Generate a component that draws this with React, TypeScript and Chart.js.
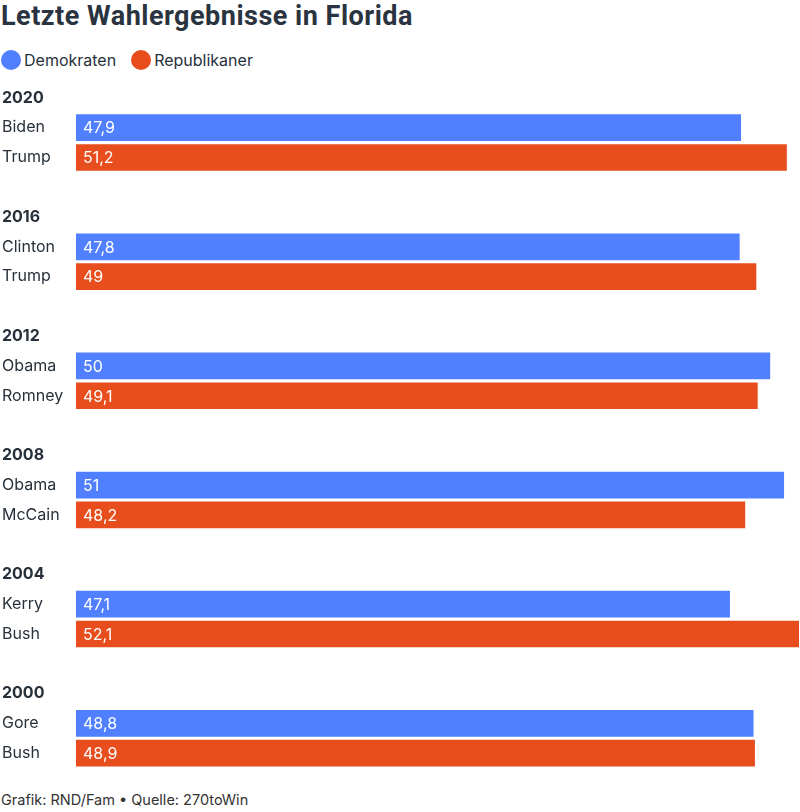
import React, { useEffect, useRef } from "react";
import { Chart, registerables } from "chart.js";

Chart.register(...registerables);

const years = ["2020", "2016", "2012", "2008", "2004", "2000"];
const demCandidates = ["Biden", "Clinton", "Obama", "Obama", "Kerry", "Gore"];
const repCandidates = ["Trump", "Trump", "Romney", "McCain", "Bush", "Bush"];
const demValues = [47.9, 47.8, 50, 51, 47.1, 48.8];
const repValues = [51.2, 49, 49.1, 48.2, 52.1, 48.9];
const seriesNames = ["Demokraten", "Republikaner"];
const title = "Letzte Wahlergebnisse in Florida";
const footer = "Grafik: RND/Fam • Quelle: 270toWin";

const BLUE = "#5080ff";
const RED = "#e84e1d";
const TEXT = "#27313b";
const FONT = "Inter, 'Noto Sans', sans-serif";

export default function App() {
  const canvasRef = useRef<HTMLCanvasElement | null>(null);

  useEffect(() => {
    document.body.style.margin = "0";
    const labels: string[] = [];
    const isYear: boolean[] = [];
    const dem: (number | null)[] = [];
    const rep: (number | null)[] = [];
    years.forEach((y, i) => {
      labels.push(y); isYear.push(true); dem.push(null); rep.push(null);
      labels.push(demCandidates[i]); isYear.push(false); dem.push(demValues[i]); rep.push(null);
      labels.push(repCandidates[i]); isYear.push(false); dem.push(null); rep.push(repValues[i]);
      if (i < years.length - 1) {
        labels.push(""); isYear.push(false); dem.push(null); rep.push(null);
      }
    });
    const maxVal = Math.max(...demValues, ...repValues);

    const valueLabels = {
      id: "valueLabels",
      afterDatasetsDraw(chart: any) {
        const ctx = chart.ctx;
        ctx.save();
        ctx.fillStyle = "#ffffff";
        ctx.font = `400 16px ${FONT}`;
        ctx.textBaseline = "middle";
        ctx.textAlign = "left";
        chart.data.datasets.forEach((ds: any, di: number) => {
          const meta = chart.getDatasetMeta(di);
          meta.data.forEach((el: any, idx: number) => {
            const v = ds.data[idx];
            if (v === null || v === undefined) return;
            ctx.fillText(String(v).replace(".", ","), el.base + 7, el.y + 1);
          });
        });
        ctx.restore();
      },
    };

    const chart = new Chart(canvasRef.current as HTMLCanvasElement, {
      type: "bar",
      data: {
        labels,
        datasets: [
          { label: seriesNames[0], data: dem, backgroundColor: BLUE, grouped: false, barThickness: 26 } as any,
          { label: seriesNames[1], data: rep, backgroundColor: RED, grouped: false, barThickness: 26 } as any,
        ],
      },
      options: {
        indexAxis: "y",
        animation: false,
        responsive: false,
        maintainAspectRatio: false,
        layout: { autoPadding: false, padding: { left: 2, right: 1, top: 0, bottom: 0 } } as any,
        plugins: { legend: { display: false }, tooltip: { enabled: false } },
        scales: {
          x: {
            display: false, min: 0, max: maxVal,
            afterFit(scale: any) { scale.paddingLeft = 0; scale.paddingRight = 0; },
          },
          y: {
            grid: { display: false },
            border: { display: false },
            afterFit(scale: any) {
              scale.width = 74;
              scale.paddingTop = 0;
              scale.paddingBottom = 0;
            },
            ticks: {
              autoSkip: false,
              crossAlign: "far",
              padding: 0,
              color: TEXT,
              font: (c: any) => ({
                family: FONT,
                size: 16,
                weight: isYear[c.index] ? "bold" : "normal",
              }),
            },
          },
        },
      },
      plugins: [valueLabels],
    });
    return () => chart.destroy();
  }, []);

  return (
    <div style={{ position: "relative", width: 800, height: 812, fontFamily: FONT, color: TEXT, background: "#fff" }}>
      <div style={{ position: "absolute", left: 1, top: -1, fontFamily: "Roboto, sans-serif", fontWeight: 700, fontSize: 27, letterSpacing: "0.5px", lineHeight: "34px", color: "#2a3440", whiteSpace: "nowrap" }}>
        {title}
      </div>
      <div style={{ position: "absolute", left: 1, top: 50, display: "flex", alignItems: "center", fontSize: 16, lineHeight: "20px" }}>
        {seriesNames.map((n, i) => (
          <div key={n} style={{ display: "flex", alignItems: "center", marginRight: 15 }}>
            <span style={{ width: 20, height: 20, borderRadius: 10, background: i === 0 ? BLUE : RED, display: "inline-block", marginRight: 3 }} />
            <span>{n}</span>
          </div>
        ))}
      </div>
      <div style={{ position: "absolute", left: 0, top: 83, width: 800, height: 685 }}>
        <canvas ref={canvasRef} width={800} height={685} style={{ width: 800, height: 685, display: "block" }} />
      </div>
      <div style={{ position: "absolute", left: 1, top: 791, fontSize: 14.5, lineHeight: "18px", color: "#333" }}>
        {footer}
      </div>
    </div>
  );
}
